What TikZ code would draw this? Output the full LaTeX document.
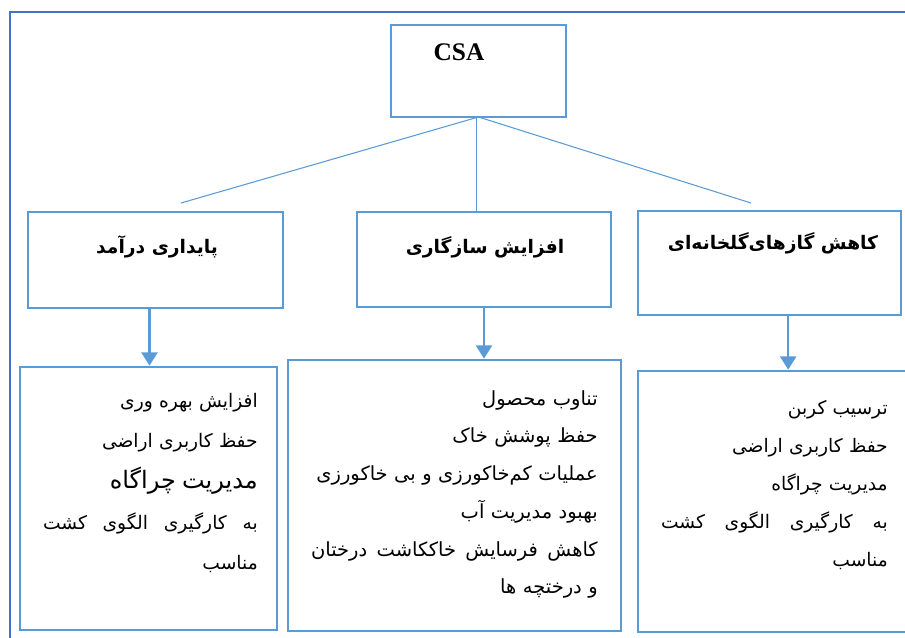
\documentclass[tikz,border=0pt]{standalone}
\usepackage{fontspec}
\setmainfont{Liberation Serif}
\newfontfamily\farsifont[Script=Arabic]{DejaVu Sans}
\TeXXeTstate=1
\usetikzlibrary{arrows.meta}
\usetikzlibrary{fit}
\definecolor{frameblue}{HTML}{4472C4}
\definecolor{boxblue}{HTML}{5B9BD5}
\newcommand{\fatxt}[1]{\leavevmode\beginR #1\endR}
\newcommand{\fafull}[1]{\leavevmode\hbox to\hsize{\beginR #1\endR}}
\setlength{\parindent}{0pt}

\begin{document}
\begin{tikzpicture}[x=0.75pt,y=0.75pt,yscale=-1,xscale=1,
  box/.style={draw=boxblue, line width=1.7pt, inner sep=0pt, outer sep=0pt},
  link/.style={draw=boxblue, line width=0.8pt},
  arr/.style={draw=boxblue, line width=1.9pt, -{Triangle[width=12pt,length=10pt]}, shorten >=1pt},
  head/.style={font=\farsifont\bfseries\fontsize{14}{17}\selectfont, inner sep=0.75pt},
  items/.style={font=\farsifont\fontsize{14}{30.4}\selectfont, align=right, inner sep=0.75pt, anchor=north east}]
\useasboundingbox (0,0) rectangle (905,637);

%Straight Lines (frame)
\draw [frameblue, line width=2pt] (10,645) -- (10,12) -- (912,12) ;

%Shape: Rectangle
\node [box, fit={(391,25) (566,117)}] (csa) {};
%Shape: Rectangle
\node [box, fit={(28,212) (283,308)}] (pay) {};
%Shape: Rectangle
\node [box, fit={(357,212) (611,307)}] (saz) {};
%Shape: Rectangle
\node [box, fit={(638,211) (901,315)}] (gas) {};
%Shape: Rectangle
\node [box, fit={(20,367) (277,630)}] (payList) {};
%Shape: Rectangle
\node [box, fit={(288,360) (621,631)}] (sazList) {};
%Shape: Rectangle
\node [box, fit={(638,371) (915,632)}] (gasList) {};

%Straight Lines
\coordinate (payEnd) at (181,203) ;
\coordinate (gasEnd) at (751,203) ;
\draw [link] (csa.south) -- (payEnd) ;
\draw [link] ([xshift=-1.5]csa.south) -- ([xshift=-1.5]csa.south |- saz.north) ;
\draw [link] (csa.south) -- (gasEnd) ;

%Straight Lines
\draw [arr] ([xshift=-4.5]pay.south) -- ([xshift=-4.5]pay.south |- payList.north) ;
\draw [arr] (saz.south) -- (saz.south |- sazList.north) ;
\draw [arr] ([xshift=14]gas.south) -- ([xshift=14]gas.south |- gasList.north) ;

% Text Node
\node [font=\bfseries\fontsize{19}{22}\selectfont, inner sep=0.75pt] (csaTxt) at (459,52) {CSA};
% Text Node
\node [head] (payTxt) at (157,247) {\fatxt{پایداری درآمد}};
% Text Node
\node [head] (sazTxt) at (485,247) {\fatxt{افزایش سازگاری}};
% Text Node
\node [head] (gasTxt) at (773,243) {\fatxt{کاهش گازهای‌گلخانه‌ای}};

% Text Node
\node [items, text width=161pt] (payItems) at (259,392) {%
\fatxt{افزایش بهره وری}\\
\fatxt{حفظ کاربری اراضی}\\
{\fontsize{18}{30.4}\selectfont\fatxt{مدیریت چراگاه}}\\
\fafull{به\hfill کارگیری\hfill الگوی\hfill کشت}\\
\fatxt{مناسب}};
% Text Node
\node [items, text width=215pt, font=\farsifont\fontsize{14.6}{28.3}\selectfont] (sazItems) at (599,389) {%
\fatxt{تناوب محصول}\\
\fatxt{حفظ پوشش خاک}\\
\fatxt{عملیات کم‌خاکورزی و بی خاکورزی}\\
\fatxt{بهبود مدیریت آب}\\
\fafull{کاهش\hfill فرسایش\hfill خاککاشت\hfill درختان}\\
\fatxt{و درختچه ها}};
% Text Node
\node [items, text width=170pt, font=\farsifont\fontsize{14}{28.5}\selectfont] (gasItems) at (889,399) {%
\fatxt{ترسیب کربن}\\
\fatxt{حفظ کاربری اراضی}\\
\fatxt{مدیریت چراگاه}\\
\fafull{به\hfill کارگیری\hfill الگوی\hfill کشت}\\
\fatxt{مناسب}};

\end{tikzpicture}
\end{document}
